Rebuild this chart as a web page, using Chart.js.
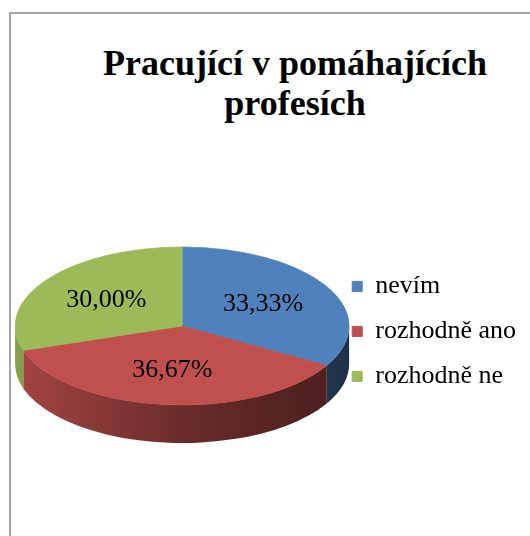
<!DOCTYPE html>
<html>
<head>
<meta charset="utf-8">
<script src="https://cdn.jsdelivr.net/npm/chart.js@4.4.1/dist/chart.umd.min.js"></script>
<style>
  html, body { margin: 0; padding: 0; background: #fff; overflow: hidden; }
  #wrap { position: relative; width: 530px; height: 536px; overflow: hidden; }
  #frame { position: absolute; left: 9px; top: 12px; width: 700px; height: 700px;
           border-left: 2px solid #a3a3a3; border-top: 2px solid #a3a3a3; }
  #title { position: absolute; left: 60px; width: 470px; top: 43px; text-align: center;
           font-family: "Liberation Serif", Tinos, "DejaVu Serif", serif; font-weight: bold;
           font-size: 36px; line-height: 40px; color: #000; }
  canvas { position: absolute; left: 0; top: 0; }
</style>
</head>
<body>
<div id="wrap">
  <div id="frame"></div>
  <div id="title">Pracující v pomáhajících<br>profesích</div>
  <canvas id="c" width="530" height="536"></canvas>
</div>
<script>
const categories = ['nevím', 'rozhodně ano', 'rozhodně ne'];
const percentages = [33.33, 36.67, 30.00];
const colors = ['#4F81BD', '#C0504D', '#9BBB59'];
const FONT = '"Liberation Serif", Tinos, "DejaVu Serif", serif';

function shade(hex, f) {
  const n = parseInt(hex.slice(1), 16);
  const r = Math.round(((n >> 16) & 255) * f);
  const g = Math.round(((n >> 8) & 255) * f);
  const b = Math.round((n & 255) * f);
  return 'rgb(' + r + ',' + g + ',' + b + ')';
}

const pie3d = {
  id: 'pie3d',
  beforeDatasetsDraw(chart, args, opts) {
    const ctx = chart.ctx;
    const meta = chart.getDatasetMeta(0);
    if (!meta.data.length) return;
    const first = meta.data[0];
    const cx = first.x, cy = first.y, R = first.outerRadius;
    const s = opts.tilt, depth = opts.depth;
    meta.data.forEach((arc, i) => {
      const t0 = Math.max(arc.startAngle, 0);
      const t1 = Math.min(arc.endAngle, Math.PI);
      if (t1 <= t0) return;
      const base = colors[i];
      const g = ctx.createLinearGradient(cx - R, 0, cx + R, 0);
      g.addColorStop(0, shade(base, 0.86));
      g.addColorStop(0.5, shade(base, 0.55));
      g.addColorStop(1, shade(base, 0.38));
      ctx.save();
      ctx.beginPath();
      ctx.ellipse(cx, cy, R, R * s, 0, t0, t1, false);
      ctx.ellipse(cx, cy + depth, R, R * s, 0, t1, t0, true);
      ctx.closePath();
      ctx.fillStyle = g;
      ctx.fill();
      ctx.restore();
    });
    ctx.save();
    ctx.translate(0, cy);
    ctx.scale(1, s);
    ctx.translate(0, -cy);
  },
  afterDatasetsDraw(chart, args, opts) {
    const ctx = chart.ctx;
    ctx.restore();
    const meta = chart.getDatasetMeta(0);
    if (!meta.data.length) return;
    const s = opts.tilt;
    const values = chart.data.datasets[0].data;
    const total = values.reduce((a, b) => a + b, 0);
    ctx.save();
    ctx.font = '26px ' + FONT;
    ctx.fillStyle = '#000';
    ctx.textAlign = 'center';
    ctx.textBaseline = 'middle';
    meta.data.forEach((arc, i) => {
      const mid = (arc.startAngle + arc.endAngle) / 2;
      const r = arc.outerRadius * opts.labelRadius;
      const x = arc.x + Math.cos(mid) * r;
      const y = arc.y + Math.sin(mid) * r * s;
      const txt = (values[i] / total * 100).toFixed(2).replace('.', ',') + '%';
      ctx.fillText(txt, x, y);
    });
    ctx.restore();
  }
};

new Chart(document.getElementById('c'), {
  type: 'pie',
  data: {
    labels: categories,
    datasets: [{
      data: percentages,
      backgroundColor: colors,
      borderColor: colors,
      borderWidth: 1,
      clip: false
    }]
  },
  options: {
    responsive: false,
    devicePixelRatio: 1,
    animation: false,
    radius: 167,
    layout: { padding: { left: 31, right: 4, top: 148, bottom: 32 } },
    plugins: {
      tooltip: { enabled: false },
      title: { display: false },
      legend: {
        position: 'right',
        align: 'center',
        title: { display: true, text: '', font: { size: 9 } },
        labels: {
          color: '#000',
          boxWidth: 10,
          boxHeight: 10,
          padding: 19,
          font: { family: FONT, size: 26 }
        }
      },
      pie3d: { tilt: 0.473, depth: 38, labelRadius: 0.56 }
    }
  },
  plugins: [pie3d]
});
</script>
</body>
</html>
